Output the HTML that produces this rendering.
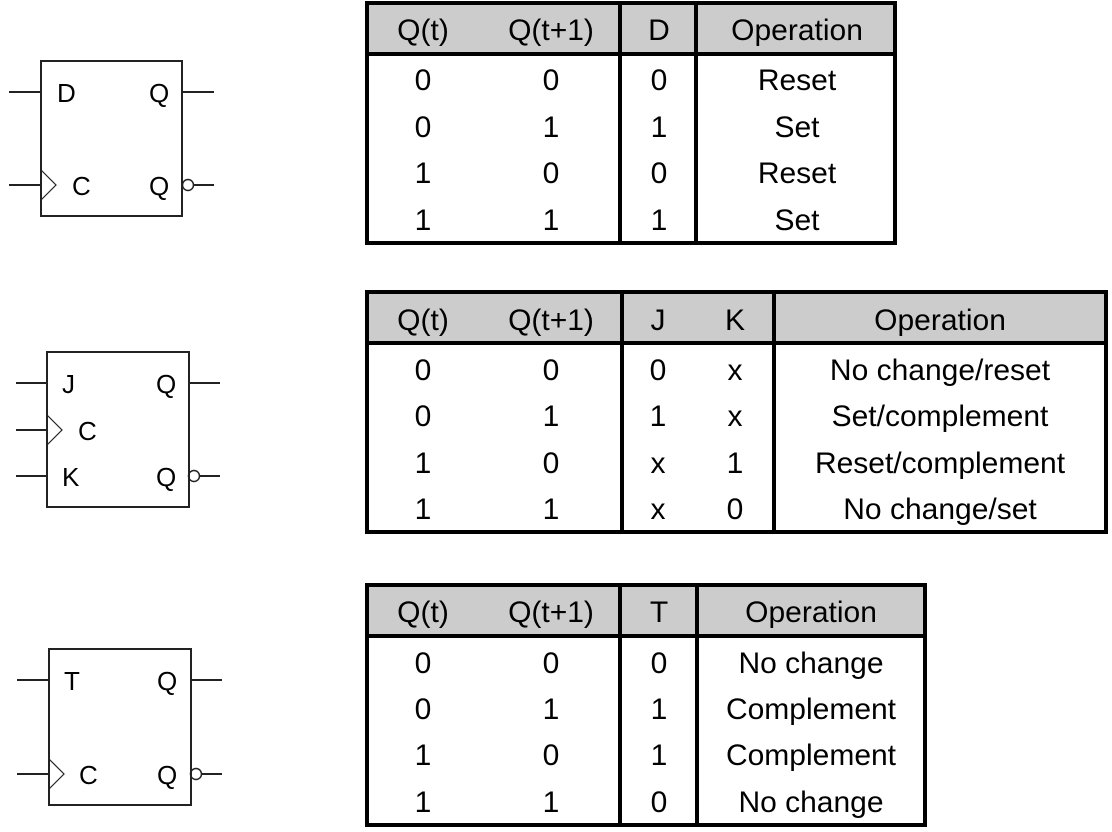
<!DOCTYPE html>
<html><head><meta charset="utf-8"><style>
html,body{margin:0;padding:0;background:#fff;}
svg{display:block;}
.t{font-family:"Liberation Sans",sans-serif;font-size:30px;fill:#000;text-anchor:middle;}
.f{font-family:"Liberation Sans",sans-serif;font-size:26px;fill:#000;}
</style></head><body>
<svg width="1112" height="832" viewBox="0 0 1112 832" xmlns="http://www.w3.org/2000/svg">
<!-- D flip-flop -->
<g stroke="#222" stroke-width="2" fill="none">
<rect x="41" y="61" width="141" height="155"/>
<line x1="9" y1="92" x2="41" y2="92"/><line x1="182" y1="92" x2="214" y2="92"/>
<line x1="9" y1="185" x2="41" y2="185"/><line x1="193" y1="185" x2="214" y2="185"/>
<polyline points="41,170 56,185 41,200" stroke-width="1.2"/>
<circle cx="188" cy="185" r="5.5" stroke-width="1.5"/>
</g>
<text class="f" x="57" y="102">D</text><text class="f" x="149" y="102">Q</text>
<text class="f" x="72" y="195">C</text><text class="f" x="149" y="195">Q</text>
<!-- JK -->
<g stroke="#222" stroke-width="2" fill="none">
<rect x="47" y="352" width="142" height="155"/>
<line x1="16" y1="383" x2="47" y2="383"/><line x1="189" y1="383" x2="220" y2="383"/>
<line x1="16" y1="430" x2="47" y2="430"/>
<line x1="16" y1="476" x2="47" y2="476"/><line x1="199" y1="476" x2="220" y2="476"/>
<polyline points="47,415 62,430 47,445" stroke-width="1.2"/>
<circle cx="194" cy="476" r="5.5" stroke-width="1.5"/>
</g>
<text class="f" x="62" y="393">J</text><text class="f" x="156" y="393">Q</text>
<text class="f" x="78" y="440">C</text>
<text class="f" x="62" y="486">K</text><text class="f" x="156" y="486">Q</text>
<!-- T -->
<g stroke="#222" stroke-width="2" fill="none">
<rect x="49" y="649" width="142" height="156"/>
<line x1="17" y1="680" x2="49" y2="680"/><line x1="191" y1="680" x2="222" y2="680"/>
<line x1="17" y1="774" x2="49" y2="774"/><line x1="201" y1="774" x2="222" y2="774"/>
<polyline points="49,759 64,774 49,789" stroke-width="1.2"/>
<circle cx="196" cy="774" r="5.5" stroke-width="1.5"/>
</g>
<text class="f" x="64" y="690">T</text><text class="f" x="157" y="690">Q</text>
<text class="f" x="79" y="784">C</text><text class="f" x="157" y="784">Q</text>

<!-- Table 1 -->
<rect x="367" y="3" width="528" height="50" fill="#cccccc"/>
<g stroke="#000" stroke-width="4" fill="none">
<rect x="367" y="3" width="528" height="240"/>
<line x1="367" y1="54" x2="895" y2="54"/>
<line x1="620" y1="3" x2="620" y2="243"/>
<line x1="696" y1="3" x2="696" y2="243"/>
</g>
<g class="t">
<text x="423" y="40">Q(t)</text><text x="551" y="40">Q(t+1)</text><text x="659" y="40">D</text><text x="797" y="40">Operation</text>
<text x="423" y="90">0</text><text x="551" y="90">0</text><text x="659" y="90">0</text><text x="797" y="90">Reset</text>
<text x="423" y="137">0</text><text x="551" y="137">1</text><text x="659" y="137">1</text><text x="797" y="137">Set</text>
<text x="423" y="183">1</text><text x="551" y="183">0</text><text x="659" y="183">0</text><text x="797" y="183">Reset</text>
<text x="423" y="230">1</text><text x="551" y="230">1</text><text x="659" y="230">1</text><text x="797" y="230">Set</text>
</g>

<!-- Table 2 -->
<rect x="367" y="292" width="739" height="50" fill="#cccccc"/>
<g stroke="#000" stroke-width="4" fill="none">
<rect x="367" y="292" width="739" height="240"/>
<line x1="367" y1="343" x2="1106" y2="343"/>
<line x1="622" y1="292" x2="622" y2="532"/>
<line x1="774" y1="292" x2="774" y2="532"/>
</g>
<g class="t">
<text x="423" y="330">Q(t)</text><text x="551" y="330">Q(t+1)</text><text x="658" y="330">J</text><text x="735" y="330">K</text><text x="940" y="330">Operation</text>
<text x="423" y="380">0</text><text x="551" y="380">0</text><text x="658" y="380">0</text><text x="735" y="380">x</text><text x="940" y="380">No change/reset</text>
<text x="423" y="426">0</text><text x="551" y="426">1</text><text x="658" y="426">1</text><text x="735" y="426">x</text><text x="940" y="426">Set/complement</text>
<text x="423" y="473">1</text><text x="551" y="473">0</text><text x="658" y="473">x</text><text x="735" y="473">1</text><text x="940" y="473">Reset/complement</text>
<text x="423" y="519">1</text><text x="551" y="519">1</text><text x="658" y="519">x</text><text x="735" y="519">0</text><text x="940" y="519">No change/set</text>
</g>

<!-- Table 3 -->
<rect x="367" y="585" width="558" height="50" fill="#cccccc"/>
<g stroke="#000" stroke-width="4" fill="none">
<rect x="367" y="585" width="558" height="240"/>
<line x1="367" y1="636" x2="925" y2="636"/>
<line x1="620" y1="585" x2="620" y2="825"/>
<line x1="697" y1="585" x2="697" y2="825"/>
</g>
<g class="t">
<text x="423" y="622">Q(t)</text><text x="551" y="622">Q(t+1)</text><text x="659" y="622">T</text><text x="811" y="622">Operation</text>
<text x="423" y="673">0</text><text x="551" y="673">0</text><text x="659" y="673">0</text><text x="811" y="673">No change</text>
<text x="423" y="719">0</text><text x="551" y="719">1</text><text x="659" y="719">1</text><text x="811" y="719">Complement</text>
<text x="423" y="765">1</text><text x="551" y="765">0</text><text x="659" y="765">1</text><text x="811" y="765">Complement</text>
<text x="423" y="812">1</text><text x="551" y="812">1</text><text x="659" y="812">0</text><text x="811" y="812">No change</text>
</g>
</svg>
</body></html>
